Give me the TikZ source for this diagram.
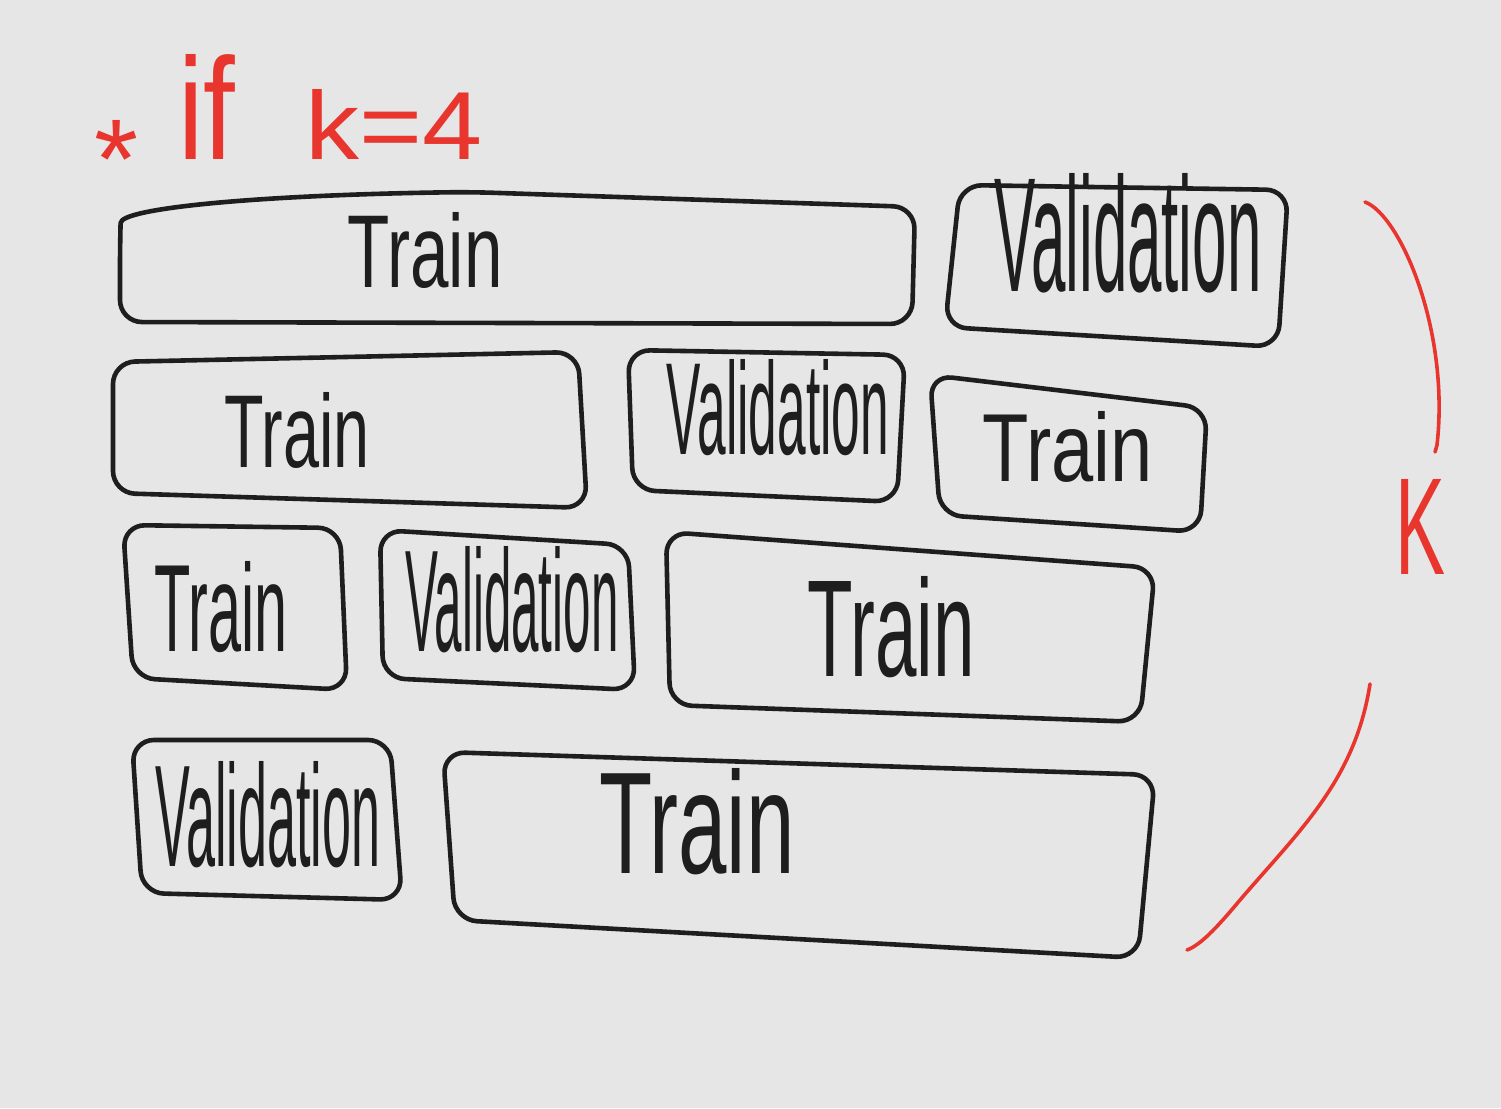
\documentclass[tikz,border=0pt]{standalone}
\usepackage{graphicx}
\usepackage{fontspec}
\setmainfont{Liberation Sans}
\definecolor{bg}{HTML}{E6E6E6}
\definecolor{ink}{HTML}{1E1E1E}
\definecolor{pen}{HTML}{E8352E}
\newcommand{\hwtext}[3]{\resizebox{#1pt}{#2pt}{#3}}
\begin{document}
\begin{tikzpicture}[x=1pt,y=-1pt,
  boxline/.style={draw=ink,line width=4.6pt,rounded corners=22pt,line join=round},
  redline/.style={draw=pen,line width=3.6pt,line cap=round},
  lbl/.style={inner sep=0pt,text=ink},
  rlbl/.style={inner sep=0pt,text=pen}]
\fill[bg] (0,0) rectangle (1501,1108);
\useasboundingbox (0,0) rectangle (1501,1108);
% row 1
\draw[boxline] (120,322) -- (120,245) .. controls (121,208) and (260,195) .. (470,192) -- (915,207) -- (912,324) -- cycle;
\draw[boxline] (960,185) -- (1288,190) -- (1278,347) -- (945,327) -- cycle;
% row 2
\draw[boxline] (113,362) -- (578,352) -- (587,508) -- (113,493) -- cycle;
\draw[boxline] (628,350) -- (905,355) -- (897,502) -- (633,490) -- cycle;
\draw[boxline] (930,375) -- (1207,408) -- (1200,532) -- (940,515) -- cycle;
% row 3
\draw[boxline] (123,525) -- (340,528) -- (347,690) -- (133,678) -- cycle;
\draw[boxline] (380,530) -- (628,545) -- (635,690) -- (383,678) -- cycle;
\draw[boxline] (666,532) -- (1155,568) -- (1140,722) -- (670,705) -- cycle;
% row 4
\draw[boxline] (132,740) -- (390,740) -- (402,900) -- (142,893) -- cycle;
\draw[boxline] (443,752) -- (1155,775) -- (1138,958) -- (455,920) -- cycle;
% labels
\node[lbl] (t1) at (425,250) {\hwtext{155}{75}{Train}};
\node[lbl] (v1) at (1128,233) {\hwtext{267}{118}{Validation}};
\node[lbl] (t2) at (297,430) {\hwtext{145}{75}{Train}};
\node[lbl] (v2) at (778,408) {\hwtext{222}{95}{Validation}};
\node[lbl] (t3) at (1068,447) {\hwtext{170}{70}{Train}};
\node[lbl] (t4) at (221,607) {\hwtext{133}{90}{Train}};
\node[lbl] (v3) at (512,600) {\hwtext{213}{105}{Validation}};
\node[lbl] (t5) at (891,627) {\hwtext{167}{100}{Train}};
\node[lbl] (v4) at (268,815) {\hwtext{225}{105}{Validation}};
\node[lbl] (t6) at (697,822) {\hwtext{195}{105}{Train}};
% red annotations
\node[rlbl,anchor=north] (star) at (117,120) {\hwtext{44}{78}{*}};
\node[rlbl,anchor=south west] (ifw) at (178,160) {\hwtext{57}{105}{if}};
\node[rlbl,anchor=south west] (keq) at (305,160) {\hwtext{177}{70}{k=4}};
\node[rlbl] (kk) at (1420,527) {\hwtext{50}{95}{K}};
\coordinate (a1) at (1365,202);
\coordinate (a2) at (1435,452);
\coordinate (b1) at (1370,684);
\coordinate (b2) at (1187,950);
\draw[redline] (a1) .. controls (1400,215) and (1450,330) .. (1437,445) -- (a2);
\draw[redline] (b1) .. controls (1355,780) and (1300,830) .. (1240,900) .. controls (1215,930) and (1200,945) .. (b2);
\end{tikzpicture}
\end{document}
